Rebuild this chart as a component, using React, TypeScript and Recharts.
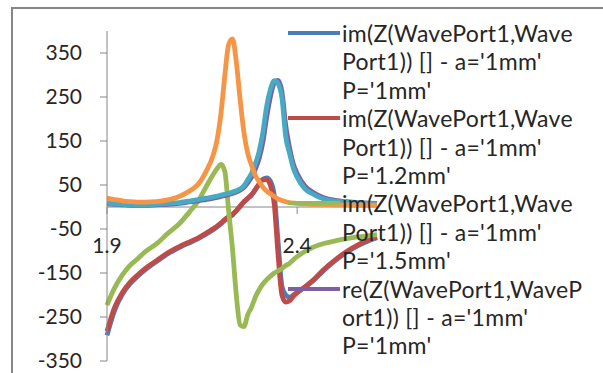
import React from "react";
import {
  LineChart,
  Line,
  XAxis,
  YAxis,
  ReferenceLine,
  ReferenceDot,
} from "recharts";

// frequency (GHz) at each sample
const freq = [
  1.9, 1.92, 1.94, 1.96, 1.98, 2.0, 2.03, 2.06, 2.09, 2.12, 2.14, 2.16, 2.18,
  2.19, 2.2, 2.21, 2.22, 2.23, 2.24, 2.25, 2.26, 2.27, 2.28, 2.29, 2.3, 2.31,
  2.32, 2.33, 2.34, 2.35, 2.36, 2.37, 2.38, 2.39, 2.4, 2.42, 2.44, 2.47, 2.5,
  2.53, 2.56, 2.59, 2.61,
];

// im(Z) a=1mm P=1mm
const imP10 = [
  -292, -235, -199, -175, -158, -143, -124, -106, -92, -80, -72, -62, -51, -45,
  -38, -30, -24, -18, -9, 1, 11, 19, 27, 39, 52, 63, 66, 58, 25, -80, -180,
  -200, -205, -200, -194, -182, -169, -144, -122, -103, -88, -76, -70,
];
// im(Z) a=1mm P=1.2mm
const imP12 = [
  -282, -228, -195, -172, -155, -140, -122, -104, -90, -78, -70, -60, -49, -43,
  -36, -28, -22, -17, -8, 2, 12, 20, 28, 40, 52, 62, 62, 48, 5, -110, -200,
  -216, -213, -203, -195, -182, -168, -142, -120, -101, -86, -74, -68,
];
// im(Z) a=1mm P=1.5mm
const imP15 = [
  -223, -184, -155, -133, -118, -102, -84, -60, -38, -8, 14, 45, 75, 88, 97,
  80, -10, -95, -200, -268, -272, -245, -228, -205, -188, -175, -165, -157,
  -150, -145, -140, -133, -128, -120, -113, -101, -92, -83, -77, -72, -68, -65,
  -63,
];
// re(Z) a=1mm P=1mm
const reP10 = [
  7, 6, 5, 4, 4, 4, 5, 6, 8, 12, 14, 17, 20, 22, 24, 26, 28, 31, 34, 38, 44, 55,
  68, 86, 110, 148, 205, 252, 282, 288, 262, 185, 135, 98, 76, 48, 34, 21, 15,
  12, 10, 9, 8,
];
// re(Z) a=1mm P=1.2mm
const reP12 = [
  9, 7, 6, 5, 5, 5, 6, 8, 10, 14, 17, 20, 23, 25, 27, 29, 31, 34, 37, 41, 48,
  62, 76, 98, 126, 170, 230, 268, 287, 280, 248, 160, 122, 88, 68, 42, 30, 18,
  13, 11, 9, 8, 7,
];
// re(Z) a=1mm P=1.5mm
const reP15 = [
  20, 17, 14, 12, 11, 11, 12, 16, 24, 38, 52, 80, 120, 155, 215, 300, 370, 382,
  330, 245, 170, 122, 95, 72, 58, 45, 36, 30, 24, 18, 15, 12, 10, 9, 8, 7, 6, 6,
  5, 5, 4, 4, 4,
];

const yTicks = [-350, -250, -150, -50, 50, 150, 250, 350];
const xTicks = [1.9, 2.4];

const series = [
  { key: "imP10", values: imP10, color: "#4A7EBB" },
  { key: "imP12", values: imP12, color: "#BE4B48" },
  { key: "imP15", values: imP15, color: "#98B954" },
  { key: "reP10", values: reP10, color: "#7D60A0" },
  { key: "reP12", values: reP12, color: "#46AAC5" },
  { key: "reP15", values: reP15, color: "#F69545" },
];

// only the first four entries fit in the visible legend
const legendItems = [
  { color: "#4A7EBB", lines: ["im(Z(WavePort1,Wave", "Port1)) [] - a='1mm'", "P='1mm'"] },
  { color: "#BE4B48", lines: ["im(Z(WavePort1,Wave", "Port1)) [] - a='1mm'", "P='1.2mm'"] },
  { color: "#98B954", lines: ["im(Z(WavePort1,Wave", "Port1)) [] - a='1mm'", "P='1.5mm'"] },
  { color: "#7D60A0", lines: ["re(Z(WavePort1,WaveP", "ort1)) [] - a='1mm'", "P='1mm'"] },
];

const data = freq.map((f, i) => {
  const row: Record<string, number> = { f };
  series.forEach((s) => {
    row[s.key] = s.values[i];
  });
  return row;
});

const FONT = "Lato, 'Open Sans', sans-serif";
const AXIS = "#868686";
const TEXT = "#262626";

export default function App() {
  return (
    <div
      style={{
        position: "absolute",
        left: 0,
        top: 0,
        width: 603,
        height: 373,
        overflow: "hidden",
        background: "#fff",
        fontFamily: FONT,
      }}
    >
      <div
        style={{
          position: "absolute",
          left: 11,
          top: 7,
          width: 700,
          height: 500,
          borderTop: `2px solid ${AXIS}`,
          borderLeft: `2px solid ${AXIS}`,
        }}
      />
      <div style={{ position: "absolute", left: 0, top: 0 }}>
        <LineChart
          width={603}
          height={373}
          data={data}
          margin={{ top: 31, right: 226, bottom: 12, left: 0 }}
        >
          <XAxis
            dataKey="f"
            type="number"
            domain={[1.9, 2.61]}
            ticks={xTicks}
            hide
          />
          <YAxis
            type="number"
            domain={[-350, 400]}
            ticks={yTicks}
            interval={0}
            width={107}
            tickSize={7}
            tickMargin={18}
            axisLine={{ stroke: AXIS }}
            tickLine={{ stroke: AXIS }}
            tick={{ fontSize: 21, fill: TEXT, fontFamily: FONT }}
          />
          <ReferenceLine y={0} stroke={AXIS} strokeWidth={1} />
          {xTicks.map((t) => (
            <ReferenceLine
              key={`tick-${t}`}
              segment={[
                { x: t, y: 0 },
                { x: t, y: -16 },
              ]}
              stroke={AXIS}
            />
          ))}
          {xTicks.map((t) => (
            <ReferenceDot
              key={`lbl-${t}`}
              x={t}
              y={0}
              r={1}
              fill="none"
              stroke="none"
              label={{
                value: String(t),
                position: "bottom",
                offset: 30,
                fontSize: 21,
                fill: TEXT,
                fontFamily: FONT,
              }}
            />
          ))}
          {series.map((s) => (
            <Line
              key={s.key}
              dataKey={s.key}
              type="monotone"
              stroke={s.color}
              strokeWidth={4.8}
              dot={false}
              isAnimationActive={false}
            />
          ))}
        </LineChart>
      </div>
      <div
        style={{
          position: "absolute",
          left: 288,
          top: 19,
          fontSize: 23,
          letterSpacing: "0.3px",
          lineHeight: "28.4px",
          color: TEXT,
          whiteSpace: "pre",
        }}
      >
        {legendItems.map((item, i) => (
          <div key={i} style={{ position: "relative", paddingLeft: 54 }}>
            <div
              style={{
                position: "absolute",
                left: 0,
                top: 12,
                width: 52,
                height: 4,
                background: item.color,
              }}
            />
            {item.lines.map((ln, j) => (
              <div key={j}>{ln}</div>
            ))}
          </div>
        ))}
      </div>
    </div>
  );
}
